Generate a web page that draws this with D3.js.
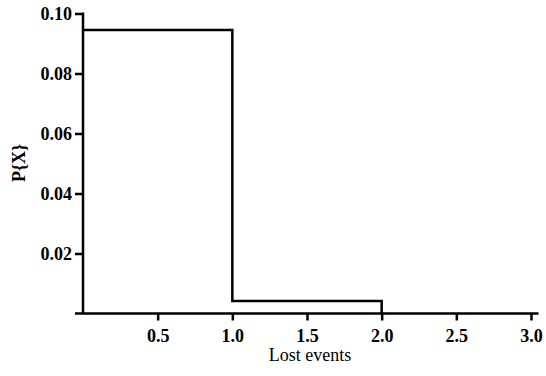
<!DOCTYPE html>
<html>
<head>
<meta charset="utf-8">
<script src="https://cdn.jsdelivr.net/npm/d3@7"></script>
<style>
  body { margin: 0; background: #fff; }
  text { font-family: "Liberation Serif", "Times New Roman", serif; fill: #000; }
</style>
</head>
<body>
<div id="chart"></div>
<script>
// Step data: probability of lost events
const stepX = [0, 1, 2, 3];
const stepP = [0.0945, 0.0042, 0];
const xTicks = [0.5, 1.0, 1.5, 2.0, 2.5, 3.0];
const yTicks = [0.02, 0.04, 0.06, 0.08, 0.10];

const width = 546, height = 376;
const serif = "'Liberation Serif', 'Times New Roman', serif";

const svg = d3.select("#chart")
  .append("svg")
  .attr("width", width)
  .attr("height", height);

const x = d3.scaleLinear().domain([0, 3]).range([83, 531]);
const y = d3.scaleLinear().domain([0, 0.10]).range([313.5, 13.5]);

// Build step path points (first two steps, then drop to zero)
const pts = [];
stepP.slice(0, 2).forEach((p, i) => {
  pts.push([stepX[i], p]);
  pts.push([stepX[i + 1], p]);
});
pts.push([stepX[2], stepP[2]]);

const line = d3.line()
  .x(d => x(d[0]))
  .y(d => y(d[1]));

svg.append("path")
  .datum(pts)
  .attr("d", line)
  .attr("fill", "none")
  .attr("stroke", "#000")
  .attr("stroke-width", 2.5)
  .attr("stroke-linejoin", "miter");

// X axis
const xAxis = svg.append("g")
  .attr("transform", `translate(0,${y(0)})`)
  .call(d3.axisBottom(x).tickValues(xTicks).tickFormat(d3.format(".1f")).tickSize(7).tickPadding(9).tickSizeOuter(0));
xAxis.select(".domain").remove();
xAxis.append("line")
  .attr("x1", 75).attr("x2", x(3.05))
  .attr("stroke", "#000").attr("stroke-width", 2.5);

// Y axis
const yAxis = svg.append("g")
  .attr("transform", `translate(${x(0)},0)`)
  .call(d3.axisLeft(y).tickValues(yTicks).tickFormat(d3.format(".2f")).tickSize(8).tickPadding(3).tickSizeOuter(0));
yAxis.select(".domain").remove();
yAxis.append("line")
  .attr("y1", y(0)).attr("y2", y(0.10) - 1)
  .attr("stroke", "#000").attr("stroke-width", 2.5);

svg.selectAll(".tick line").attr("stroke", "#000").attr("stroke-width", 2.5);
svg.selectAll("g").attr("font-family", serif);
svg.selectAll(".tick text")
  .attr("font-family", serif)
  .attr("font-size", 18)
  .attr("font-weight", "bold");

// Axis labels
svg.append("text")
  .attr("x", 310)
  .attr("y", 361)
  .attr("text-anchor", "middle")
  .attr("font-family", serif)
  .attr("font-size", 18)
  .text("Lost events");

svg.append("text")
  .attr("transform", `translate(25,163) rotate(-90)`)
  .attr("text-anchor", "middle")
  .attr("font-family", serif)
  .attr("font-size", 18)
  .attr("font-weight", "bold")
  .text("P{X}");
</script>
</body>
</html>
